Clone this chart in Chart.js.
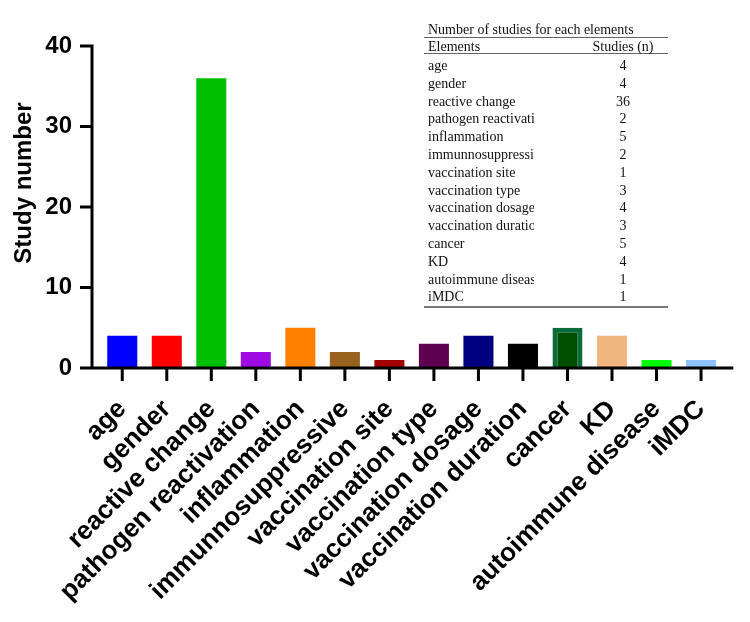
<!DOCTYPE html>
<html>
<head>
<meta charset="utf-8">
<script src="https://cdn.jsdelivr.net/npm/chart.js@4.4.1/dist/chart.umd.min.js"></script>
<style>
  body { margin: 0; background: #fff; }
  #wrap { position: relative; width: 750px; height: 622px; }
  #tbl { position: absolute; left: 424px; top: 22px; width: 244px;
         font-family: "Liberation Serif", "DejaVu Serif", serif; font-size: 14px; color: #111; }
  #tbl .cap { height: 15px; line-height: 15px; padding-left: 4px; border-bottom: 1.5px solid #666; white-space: nowrap; }
  #tbl .row { display: flex; white-space: nowrap; }
  #tbl .hd { height: 15px; line-height: 17px; border-bottom: 1.5px solid #666; }
  #tbl .body { padding-top: 3px; border-bottom: 2px solid #777; }
  #tbl .body .row { height: 17.8px; line-height: 17.8px; }
  #tbl .name { width: 106px; padding-left: 4px; overflow: hidden; }
  #tbl .val { width: 90px; margin-left: 44px; text-align: center; }
</style>
</head>
<body>
<div id="wrap">
  <canvas id="chart" width="750" height="622"></canvas>
  <div id="tbl"></div>
</div>
<script>
// data
const categories = ['age', 'gender', 'reactive change', 'pathogen reactivation', 'inflammation',
  'immunnosuppressive', 'vaccination site', 'vaccination type', 'vaccination dosage',
  'vaccination duration', 'cancer', 'KD', 'autoimmune disease', 'iMDC'];
const studies = [4, 4, 36, 2, 5, 2, 1, 3, 4, 3, 5, 4, 1, 1];
const barColors = ['#0000FF', '#FF0000', '#00BF00', '#A10BE3', '#FF8000', '#99621E', '#A00000',
  '#5E0050', '#000080', '#000000', '#004F00', '#F1B57F', '#00FF00', '#8FC1FF'];
const borderColors = barColors.map((c, i) => categories[i] === 'cancer' ? '#0A6B3C' : c);
const borderWidths = categories.map(c => c === 'cancer' ? 5 : 0);
const yTicks = [0, 10, 20, 30, 40];
const tableTitle = 'Number of studies for each elements';
const tableHead = ['Elements', 'Studies (n)'];

// table in the corner
const tbl = document.getElementById('tbl');
let html = '<div class="cap">' + tableTitle + '</div>';
html += '<div class="row hd"><div class="name">' + tableHead[0] + '</div><div class="val">' + tableHead[1] + '</div></div>';
html += '<div class="body">';
categories.forEach((c, i) => {
  html += '<div class="row"><div class="name">' + c + '</div><div class="val">' + studies[i] + '</div></div>';
});
html += '</div>';
tbl.innerHTML = html;

const FONT = '"Liberation Sans", Arial, sans-serif';

// axis lines, tick marks and the y title
const axesPlugin = {
  id: 'axes',
  afterDatasetsDraw(chart) {
    const { ctx, chartArea, scales: { x, y } } = chart;
    const ax = chartArea.left - 8;
    const y0 = y.getPixelForValue(0);
    ctx.save();
    ctx.strokeStyle = '#000';
    ctx.lineWidth = 3;
    ctx.beginPath();
    ctx.moveTo(ax, y.getPixelForValue(40) - 1.5);
    ctx.lineTo(ax, y0 + 1.5);
    ctx.moveTo(ax - 1.5, y0);
    ctx.lineTo(chartArea.right + 10, y0);
    yTicks.forEach(v => {
      const py = y.getPixelForValue(v);
      ctx.moveTo(ax - 12, py);
      ctx.lineTo(ax, py);
    });
    categories.forEach((c, i) => {
      const px = x.getPixelForValue(i);
      ctx.moveTo(px, y0);
      ctx.lineTo(px, y0 + 13);
    });
    ctx.stroke();
    ctx.translate(24, 183);
    ctx.rotate(-Math.PI / 2);
    ctx.font = 'bold 24px ' + FONT;
    ctx.fillStyle = '#000';
    ctx.textAlign = 'center';
    ctx.textBaseline = 'middle';
    ctx.fillText('Study number', 0, 0);
    ctx.restore();
  }
};

new Chart(document.getElementById('chart'), {
  type: 'bar',
  data: {
    labels: categories,
    datasets: [{
      data: studies,
      backgroundColor: barColors,
      borderColor: borderColors,
      borderWidth: borderWidths,
      barPercentage: 0.9,
      categoryPercentage: 0.75
    }]
  },
  options: {
    responsive: false,
    animation: false,
    layout: { padding: { top: 46, right: 25, left: 0, bottom: 0 } },
    plugins: { legend: { display: false }, tooltip: { enabled: false } },
    scales: {
      x: {
        grid: { display: false, drawTicks: false },
        border: { display: false },
        ticks: {
          autoSkip: false, minRotation: 45, maxRotation: 45, padding: 26,
          color: '#000', font: { family: FONT, size: 26, weight: 'bold' }
        },
        afterFit(scale) { scale.height = 622 - 368; }
      },
      y: {
        min: 0, max: 40,
        grid: { display: false, drawTicks: false },
        border: { display: false },
        ticks: {
          stepSize: 10, padding: 28,
          color: '#000', font: { family: FONT, size: 24, weight: 'bold' }
        },
        afterFit(scale) { scale.width = 100; }
      }
    }
  },
  plugins: [axesPlugin]
});
</script>
</body>
</html>
